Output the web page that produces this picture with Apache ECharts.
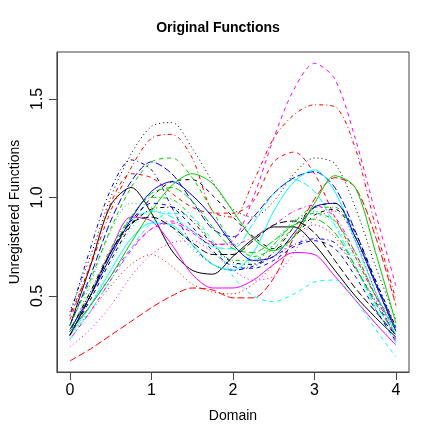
<!DOCTYPE html>
<html>
<head>
<meta charset="utf-8">
<script src="https://cdn.jsdelivr.net/npm/echarts@6/dist/echarts.min.js"></script>
<style>
  html, body { margin: 0; padding: 0; background: #fff; }
  #chart { width: 436px; height: 436px; }
</style>
</head>
<body>
<div id="chart"></div>
<script>
// evaluation grid
const domain = [0, 0.25, 0.5, 0.75, 1, 1.25, 1.5, 1.75, 2, 2.25, 2.5, 2.75, 3, 3.25, 3.5, 3.75, 4];
const xTicks = [0, 1, 2, 3, 4];
const yTicks = [0.5, 1.0, 1.5];

// curves
const blackSolid     = [0.35, 0.65, 0.96, 1.05, 0.92, 0.73, 0.63, 0.61, 0.70, 0.79, 0.85, 0.85, 0.76, 0.63, 0.50, 0.39, 0.29];
const redDashed      = [0.38, 0.66, 0.97, 1.12, 1.10, 1.02, 0.95, 0.92, 0.92, 0.98, 1.18, 1.23, 1.12, 0.90, 0.70, 0.50, 0.35];
const greenDotted    = [0.30, 0.56, 0.83, 0.97, 0.95, 0.85, 0.74, 0.66, 0.63, 0.66, 0.76, 0.88, 0.93, 0.88, 0.70, 0.50, 0.32];
const blueDotdash    = [0.40, 0.74, 1.04, 1.19, 1.14, 0.95, 0.76, 0.66, 0.63, 0.65, 0.70, 0.76, 0.79, 0.77, 0.64, 0.47, 0.30];
const cyanLongdash   = [0.30, 0.50, 0.72, 0.88, 0.93, 0.90, 0.83, 0.75, 0.74, 0.87, 1.02, 1.09, 1.03, 0.86, 0.65, 0.44, 0.26];
const magentaSolid   = [0.30, 0.50, 0.73, 0.90, 0.88, 0.76, 0.61, 0.54, 0.54, 0.58, 0.66, 0.72, 0.71, 0.60, 0.48, 0.36, 0.25];
const blackDashed    = [0.30, 0.48, 0.68, 0.86, 1.00, 1.08, 1.09, 1.01, 0.90, 0.80, 0.74, 0.80, 0.91, 0.94, 0.80, 0.56, 0.32];
const redDotted      = [0.30, 0.42, 0.55, 0.66, 0.71, 0.65, 0.56, 0.52, 0.51, 0.56, 0.66, 0.80, 0.86, 0.80, 0.64, 0.48, 0.33];
const greenDotdash   = [0.33, 0.52, 0.74, 0.90, 1.00, 0.99, 0.90, 0.77, 0.68, 0.68, 0.76, 0.87, 0.95, 0.95, 0.80, 0.57, 0.34];
const blueLongdash   = [0.35, 0.60, 0.88, 1.08, 1.18, 1.12, 0.98, 0.84, 0.80, 0.90, 1.02, 1.10, 1.13, 1.05, 0.83, 0.57, 0.33];
const cyanSolid      = [0.30, 0.45, 0.63, 0.79, 0.87, 0.86, 0.76, 0.66, 0.63, 0.72, 0.93, 1.08, 1.14, 1.03, 0.78, 0.52, 0.30];
const magentaDashed  = [0.32, 0.45, 0.60, 0.74, 0.84, 0.87, 0.82, 0.76, 0.78, 1.00, 1.30, 1.55, 1.68, 1.60, 1.30, 0.92, 0.55];
const blackDotted    = [0.42, 0.70, 1.00, 1.22, 1.36, 1.38, 1.25, 1.08, 0.94, 0.90, 0.98, 1.12, 1.20, 1.17, 0.95, 0.65, 0.38];
const redDotdash     = [0.40, 0.65, 0.93, 1.15, 1.30, 1.32, 1.20, 0.93, 0.90, 1.08, 1.30, 1.42, 1.47, 1.46, 1.25, 0.85, 0.48];
const greenLongdash  = [0.30, 0.50, 0.72, 0.90, 1.02, 1.05, 0.98, 0.85, 0.74, 0.72, 0.78, 0.86, 0.89, 0.82, 0.65, 0.46, 0.30];
const blueSolid      = [0.33, 0.50, 0.70, 0.89, 1.03, 1.08, 1.01, 0.90, 0.76, 0.68, 0.70, 0.82, 0.95, 0.97, 0.80, 0.56, 0.32];
const cyanDashed     = [0.28, 0.42, 0.58, 0.74, 0.87, 0.92, 0.90, 0.78, 0.60, 0.50, 0.47, 0.51, 0.57, 0.58, 0.48, 0.33, 0.19];
const magentaDotted  = [0.24, 0.33, 0.45, 0.60, 0.71, 0.77, 0.78, 0.72, 0.63, 0.58, 0.60, 0.72, 0.89, 0.93, 0.78, 0.52, 0.27];
const blackDotdash   = [0.32, 0.52, 0.72, 0.86, 0.94, 0.95, 0.88, 0.76, 0.67, 0.66, 0.72, 0.85, 0.95, 0.97, 0.82, 0.58, 0.34];
const redLongdash    = [0.17, 0.23, 0.30, 0.37, 0.44, 0.50, 0.54, 0.53, 0.49, 0.49, 0.59, 0.80, 0.99, 1.10, 1.05, 0.80, 0.45];
const greenSolid     = [0.32, 0.45, 0.60, 0.77, 0.93, 1.06, 1.12, 1.07, 0.93, 0.79, 0.73, 0.80, 0.97, 1.11, 1.05, 0.72, 0.36];
const blueDashed     = [0.30, 0.50, 0.72, 0.88, 0.97, 0.95, 0.85, 0.73, 0.65, 0.64, 0.68, 0.75, 0.78, 0.74, 0.60, 0.43, 0.27];
const cyanDotted     = [0.27, 0.45, 0.66, 0.84, 0.93, 0.92, 0.83, 0.72, 0.66, 0.68, 0.78, 0.88, 0.92, 0.86, 0.68, 0.47, 0.28];
const magentaDotdash = [0.28, 0.42, 0.58, 0.73, 0.84, 0.88, 0.83, 0.77, 0.76, 0.80, 0.86, 0.93, 0.96, 0.90, 0.72, 0.50, 0.28];
const blackLongdash  = [0.30, 0.50, 0.72, 0.87, 0.90, 0.85, 0.77, 0.71, 0.71, 0.78, 0.86, 0.88, 0.82, 0.68, 0.54, 0.42, 0.30];
const greenDashed    = [0.35, 0.58, 0.84, 1.05, 1.18, 1.20, 1.10, 0.93, 0.77, 0.70, 0.74, 0.85, 0.92, 0.88, 0.72, 0.50, 0.33];

// R-ish colours and line types
const COL = { black: '#000000', red: '#FF0000', green: '#00CD00', blue: '#0000FF', cyan: '#00FFFF', magenta: '#FF00FF' };
const LTY = { solid: 'solid', dashed: [4, 4], dotted: [1, 3], dotdash: [1, 3, 4, 3], longdash: [7, 3] };

const curves = [
  [blackSolid, 'black', 'solid'],
  [redDashed, 'red', 'dashed'],
  [greenDotted, 'green', 'dotted'],
  [blueDotdash, 'blue', 'dotdash'],
  [cyanLongdash, 'cyan', 'longdash'],
  [magentaSolid, 'magenta', 'solid'],
  [blackDashed, 'black', 'dashed'],
  [redDotted, 'red', 'dotted'],
  [greenDotdash, 'green', 'dotdash'],
  [blueLongdash, 'blue', 'longdash'],
  [cyanSolid, 'cyan', 'solid'],
  [magentaDashed, 'magenta', 'dashed'],
  [blackDotted, 'black', 'dotted'],
  [redDotdash, 'red', 'dotdash'],
  [greenLongdash, 'green', 'longdash'],
  [blueSolid, 'blue', 'solid'],
  [cyanDashed, 'cyan', 'dashed'],
  [magentaDotted, 'magenta', 'dotted'],
  [blackDotdash, 'black', 'dotdash'],
  [redLongdash, 'red', 'longdash'],
  [greenSolid, 'green', 'solid'],
  [blueDashed, 'blue', 'dashed'],
  [cyanDotted, 'cyan', 'dotted'],
  [magentaDotdash, 'magenta', 'dotdash'],
  [blackLongdash, 'black', 'longdash'],
  [greenDashed, 'green', 'dashed']
];

const FONT = 'Liberation Sans, Arial, Helvetica, sans-serif';

const chart = echarts.init(document.getElementById('chart'), null, { renderer: 'canvas' });

chart.setOption({
  animation: false,
  backgroundColor: '#ffffff',
  title: {
    text: 'Original Functions',
    left: 'center',
    top: 16,
    textStyle: { fontFamily: FONT, fontSize: 14, fontWeight: 'bold', color: '#000' }
  },
  grid: {
    left: 51, right: 27, top: 52, bottom: 64,
    show: true, borderColor: '#444', borderWidth: 1
  },
  xAxis: {
    type: 'value',
    min: -0.16, max: 4.16,
    name: 'Domain',
    nameLocation: 'middle',
    nameGap: 37,
    nameTextStyle: { fontFamily: FONT, fontSize: 14, color: '#000' },
    axisLine: { show: true, onZero: false, lineStyle: { color: '#444', width: 1 } },
    axisTick: { show: true, length: 8, customValues: xTicks, lineStyle: { color: '#444' } },
    axisLabel: { customValues: xTicks, fontFamily: FONT, fontSize: 16, color: '#000', margin: 11 },
    splitLine: { show: false }
  },
  yAxis: {
    type: 'value',
    min: 0.1135, max: 1.738,
    name: 'Unregistered Functions',
    nameLocation: 'middle',
    nameRotate: 90,
    nameGap: 32,
    nameTextStyle: { fontFamily: FONT, fontSize: 14, color: '#000' },
    axisLine: { show: true, onZero: false, lineStyle: { color: '#444', width: 1 } },
    axisTick: { show: true, length: 8, customValues: yTicks, lineStyle: { color: '#444' } },
    axisLabel: {
      customValues: yTicks, rotate: 90, fontFamily: FONT, fontSize: 16, color: '#000', margin: 11,
      formatter: v => v.toFixed(1)
    },
    splitLine: { show: false }
  },
  series: curves.map(([vals, col, lty]) => ({
    type: 'line',
    data: domain.map((x, i) => [x, vals[i]]),
    showSymbol: false,
    smooth: 0.3,
    silent: true,
    lineStyle: { color: COL[col], width: 1, type: LTY[lty] }
  }))
});
</script>
</body>
</html>
